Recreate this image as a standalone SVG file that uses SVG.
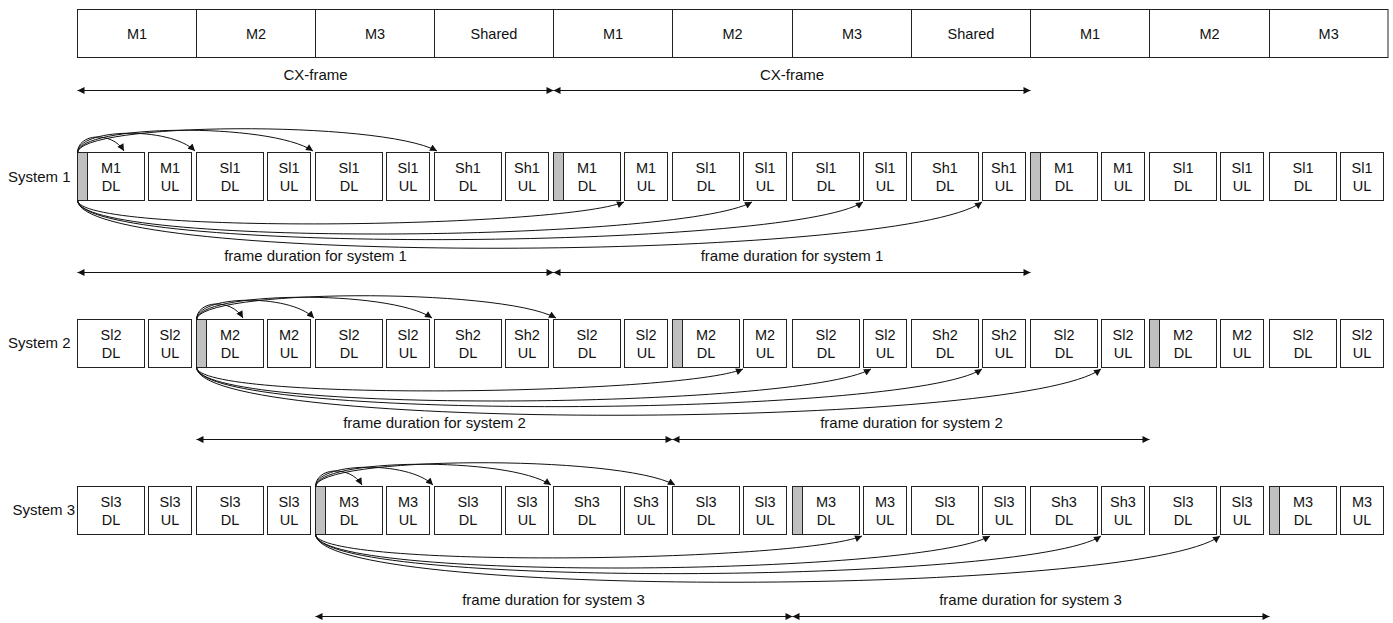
<svg xmlns="http://www.w3.org/2000/svg" width="1393" height="623" viewBox="0 0 1393 623">
<defs>
<style>
.box{fill:#fff;stroke:#222;stroke-width:1}
.gray{fill:#c0c0c0;stroke:#222;stroke-width:1}
.t{font-family:"Liberation Sans",Arial,sans-serif;font-size:14.5px;fill:#111;text-anchor:middle}
.lbl{font-family:"Liberation Sans",Arial,sans-serif;font-size:15px;fill:#111;text-anchor:middle}
.sys{font-family:"Liberation Sans",Arial,sans-serif;font-size:15px;fill:#111}
.conn{fill:none;stroke:#111;stroke-width:1}
.curve{marker-end:url(#ah)}
.dbl{marker-start:url(#ah2);marker-end:url(#ah2)}
</style>
<marker id="ah" viewBox="0 0 10 10" refX="10" refY="5" markerWidth="8" markerHeight="7" markerUnits="userSpaceOnUse" orient="auto"><path d="M0,0 L10,5 L0,10 z" fill="#111"/></marker>
<marker id="ah2" viewBox="0 0 10 10" refX="10" refY="5" markerWidth="8" markerHeight="7" markerUnits="userSpaceOnUse" orient="auto-start-reverse"><path d="M0,0 L10,5 L0,10 z" fill="#111"/></marker>
</defs>
<rect width="1393" height="623" fill="#fff"/>

<!-- top row -->
<g id="top-row">
<g id="cx1"><rect class="box" x="77.5" y="9.5" width="119" height="48"/><text class="t" x="137" y="38.7">M1</text></g>
<g id="cx2"><rect class="box" x="196.5" y="9.5" width="119" height="48"/><text class="t" x="256" y="38.7">M2</text></g>
<g id="cx3"><rect class="box" x="315.5" y="9.5" width="119" height="48"/><text class="t" x="375" y="38.7">M3</text></g>
<g id="cx4"><rect class="box" x="434.5" y="9.5" width="119" height="48"/><text class="t" x="494" y="38.7">Shared</text></g>
<g id="cx5"><rect class="box" x="553.5" y="9.5" width="119" height="48"/><text class="t" x="613" y="38.7">M1</text></g>
<g id="cx6"><rect class="box" x="672.5" y="9.5" width="120" height="48"/><text class="t" x="732.5" y="38.7">M2</text></g>
<g id="cx7"><rect class="box" x="792.5" y="9.5" width="119" height="48"/><text class="t" x="852" y="38.7">M3</text></g>
<g id="cx8"><rect class="box" x="911.5" y="9.5" width="119" height="48"/><text class="t" x="971" y="38.7">Shared</text></g>
<g id="cx9"><rect class="box" x="1030.5" y="9.5" width="119" height="48"/><text class="t" x="1090" y="38.7">M1</text></g>
<g id="cx10"><rect class="box" x="1149.5" y="9.5" width="120" height="48"/><text class="t" x="1209.5" y="38.7">M2</text></g>
<g id="cx11"><rect class="box" x="1269.5" y="9.5" width="118.5" height="48"/><text class="t" x="1328.7" y="38.7">M3</text></g>
</g>

<g id="labels">
<text class="lbl" x="315.5" y="80.3">CX-frame</text>
<text class="lbl" x="792" y="80.3">CX-frame</text>
<text class="sys" x="8" y="182">System 1</text>
<text class="sys" x="8" y="348">System 2</text>
<text class="sys" x="12.5" y="515">System 3</text>
<text class="lbl" x="315.5" y="261">frame duration for system 1</text>
<text class="lbl" x="792" y="261">frame duration for system 1</text>
<text class="lbl" x="434.5" y="428">frame duration for system 2</text>
<text class="lbl" x="911.5" y="428">frame duration for system 2</text>
<text class="lbl" x="553.5" y="605">frame duration for system 3</text>
<text class="lbl" x="1030.5" y="605">frame duration for system 3</text>
</g>

<!-- System 1 -->
<g id="system1">
<g id="s1-0dl"><rect class="box" x="77.5" y="152.5" width="67" height="48"/><rect class="gray" x="77.5" y="152.5" width="10" height="48"/><text class="t" x="111" y="173.4">M1</text><text class="t" x="111" y="190.6">DL</text></g>
<g id="s1-0ul"><rect class="box" x="148.5" y="152.5" width="43" height="48"/><text class="t" x="170" y="173.4">M1</text><text class="t" x="170" y="190.6">UL</text></g>
<g id="s1-1dl"><rect class="box" x="196.5" y="152.5" width="67" height="48"/><text class="t" x="230" y="173.4">Sl1</text><text class="t" x="230" y="190.6">DL</text></g>
<g id="s1-1ul"><rect class="box" x="267.5" y="152.5" width="43" height="48"/><text class="t" x="289" y="173.4">Sl1</text><text class="t" x="289" y="190.6">UL</text></g>
<g id="s1-2dl"><rect class="box" x="315.5" y="152.5" width="67" height="48"/><text class="t" x="349" y="173.4">Sl1</text><text class="t" x="349" y="190.6">DL</text></g>
<g id="s1-2ul"><rect class="box" x="386.5" y="152.5" width="43" height="48"/><text class="t" x="408" y="173.4">Sl1</text><text class="t" x="408" y="190.6">UL</text></g>
<g id="s1-3dl"><rect class="box" x="434.5" y="152.5" width="67" height="48"/><text class="t" x="468" y="173.4">Sh1</text><text class="t" x="468" y="190.6">DL</text></g>
<g id="s1-3ul"><rect class="box" x="505.5" y="152.5" width="43" height="48"/><text class="t" x="527" y="173.4">Sh1</text><text class="t" x="527" y="190.6">UL</text></g>
<g id="s1-4dl"><rect class="box" x="553.5" y="152.5" width="67" height="48"/><rect class="gray" x="553.5" y="152.5" width="10" height="48"/><text class="t" x="587" y="173.4">M1</text><text class="t" x="587" y="190.6">DL</text></g>
<g id="s1-4ul"><rect class="box" x="624.5" y="152.5" width="43" height="48"/><text class="t" x="646" y="173.4">M1</text><text class="t" x="646" y="190.6">UL</text></g>
<g id="s1-5dl"><rect class="box" x="672.5" y="152.5" width="67" height="48"/><text class="t" x="706" y="173.4">Sl1</text><text class="t" x="706" y="190.6">DL</text></g>
<g id="s1-5ul"><rect class="box" x="743.5" y="152.5" width="43" height="48"/><text class="t" x="765" y="173.4">Sl1</text><text class="t" x="765" y="190.6">UL</text></g>
<g id="s1-6dl"><rect class="box" x="792.5" y="152.5" width="67" height="48"/><text class="t" x="826" y="173.4">Sl1</text><text class="t" x="826" y="190.6">DL</text></g>
<g id="s1-6ul"><rect class="box" x="863.5" y="152.5" width="43" height="48"/><text class="t" x="885" y="173.4">Sl1</text><text class="t" x="885" y="190.6">UL</text></g>
<g id="s1-7dl"><rect class="box" x="911.5" y="152.5" width="67" height="48"/><text class="t" x="945" y="173.4">Sh1</text><text class="t" x="945" y="190.6">DL</text></g>
<g id="s1-7ul"><rect class="box" x="982.5" y="152.5" width="43" height="48"/><text class="t" x="1004" y="173.4">Sh1</text><text class="t" x="1004" y="190.6">UL</text></g>
<g id="s1-8dl"><rect class="box" x="1030.5" y="152.5" width="67" height="48"/><rect class="gray" x="1030.5" y="152.5" width="10" height="48"/><text class="t" x="1064" y="173.4">M1</text><text class="t" x="1064" y="190.6">DL</text></g>
<g id="s1-8ul"><rect class="box" x="1101.5" y="152.5" width="43" height="48"/><text class="t" x="1123" y="173.4">M1</text><text class="t" x="1123" y="190.6">UL</text></g>
<g id="s1-9dl"><rect class="box" x="1149.5" y="152.5" width="67" height="48"/><text class="t" x="1183" y="173.4">Sl1</text><text class="t" x="1183" y="190.6">DL</text></g>
<g id="s1-9ul"><rect class="box" x="1220.5" y="152.5" width="43" height="48"/><text class="t" x="1242" y="173.4">Sl1</text><text class="t" x="1242" y="190.6">UL</text></g>
<g id="s1-10dl"><rect class="box" x="1269.5" y="152.5" width="67" height="48"/><text class="t" x="1303" y="173.4">Sl1</text><text class="t" x="1303" y="190.6">DL</text></g>
<g id="s1-10ul"><rect class="box" x="1340.5" y="152.5" width="43" height="48"/><text class="t" x="1362" y="173.4">Sl1</text><text class="t" x="1362" y="190.6">UL</text></g>
</g>

<!-- System 2 -->
<g id="system2">
<g id="s2-0dl"><rect class="box" x="77.5" y="319.5" width="67" height="48"/><text class="t" x="111" y="340.4">Sl2</text><text class="t" x="111" y="357.6">DL</text></g>
<g id="s2-0ul"><rect class="box" x="148.5" y="319.5" width="43" height="48"/><text class="t" x="170" y="340.4">Sl2</text><text class="t" x="170" y="357.6">UL</text></g>
<g id="s2-1dl"><rect class="box" x="196.5" y="319.5" width="67" height="48"/><rect class="gray" x="196.5" y="319.5" width="10" height="48"/><text class="t" x="230" y="340.4">M2</text><text class="t" x="230" y="357.6">DL</text></g>
<g id="s2-1ul"><rect class="box" x="267.5" y="319.5" width="43" height="48"/><text class="t" x="289" y="340.4">M2</text><text class="t" x="289" y="357.6">UL</text></g>
<g id="s2-2dl"><rect class="box" x="315.5" y="319.5" width="67" height="48"/><text class="t" x="349" y="340.4">Sl2</text><text class="t" x="349" y="357.6">DL</text></g>
<g id="s2-2ul"><rect class="box" x="386.5" y="319.5" width="43" height="48"/><text class="t" x="408" y="340.4">Sl2</text><text class="t" x="408" y="357.6">UL</text></g>
<g id="s2-3dl"><rect class="box" x="434.5" y="319.5" width="67" height="48"/><text class="t" x="468" y="340.4">Sh2</text><text class="t" x="468" y="357.6">DL</text></g>
<g id="s2-3ul"><rect class="box" x="505.5" y="319.5" width="43" height="48"/><text class="t" x="527" y="340.4">Sh2</text><text class="t" x="527" y="357.6">UL</text></g>
<g id="s2-4dl"><rect class="box" x="553.5" y="319.5" width="67" height="48"/><text class="t" x="587" y="340.4">Sl2</text><text class="t" x="587" y="357.6">DL</text></g>
<g id="s2-4ul"><rect class="box" x="624.5" y="319.5" width="43" height="48"/><text class="t" x="646" y="340.4">Sl2</text><text class="t" x="646" y="357.6">UL</text></g>
<g id="s2-5dl"><rect class="box" x="672.5" y="319.5" width="67" height="48"/><rect class="gray" x="672.5" y="319.5" width="10" height="48"/><text class="t" x="706" y="340.4">M2</text><text class="t" x="706" y="357.6">DL</text></g>
<g id="s2-5ul"><rect class="box" x="743.5" y="319.5" width="43" height="48"/><text class="t" x="765" y="340.4">M2</text><text class="t" x="765" y="357.6">UL</text></g>
<g id="s2-6dl"><rect class="box" x="792.5" y="319.5" width="67" height="48"/><text class="t" x="826" y="340.4">Sl2</text><text class="t" x="826" y="357.6">DL</text></g>
<g id="s2-6ul"><rect class="box" x="863.5" y="319.5" width="43" height="48"/><text class="t" x="885" y="340.4">Sl2</text><text class="t" x="885" y="357.6">UL</text></g>
<g id="s2-7dl"><rect class="box" x="911.5" y="319.5" width="67" height="48"/><text class="t" x="945" y="340.4">Sh2</text><text class="t" x="945" y="357.6">DL</text></g>
<g id="s2-7ul"><rect class="box" x="982.5" y="319.5" width="43" height="48"/><text class="t" x="1004" y="340.4">Sh2</text><text class="t" x="1004" y="357.6">UL</text></g>
<g id="s2-8dl"><rect class="box" x="1030.5" y="319.5" width="67" height="48"/><text class="t" x="1064" y="340.4">Sl2</text><text class="t" x="1064" y="357.6">DL</text></g>
<g id="s2-8ul"><rect class="box" x="1101.5" y="319.5" width="43" height="48"/><text class="t" x="1123" y="340.4">Sl2</text><text class="t" x="1123" y="357.6">UL</text></g>
<g id="s2-9dl"><rect class="box" x="1149.5" y="319.5" width="67" height="48"/><rect class="gray" x="1149.5" y="319.5" width="10" height="48"/><text class="t" x="1183" y="340.4">M2</text><text class="t" x="1183" y="357.6">DL</text></g>
<g id="s2-9ul"><rect class="box" x="1220.5" y="319.5" width="43" height="48"/><text class="t" x="1242" y="340.4">M2</text><text class="t" x="1242" y="357.6">UL</text></g>
<g id="s2-10dl"><rect class="box" x="1269.5" y="319.5" width="67" height="48"/><text class="t" x="1303" y="340.4">Sl2</text><text class="t" x="1303" y="357.6">DL</text></g>
<g id="s2-10ul"><rect class="box" x="1340.5" y="319.5" width="43" height="48"/><text class="t" x="1362" y="340.4">Sl2</text><text class="t" x="1362" y="357.6">UL</text></g>
</g>

<!-- System 3 -->
<g id="system3">
<g id="s3-0dl"><rect class="box" x="77.5" y="486.5" width="67" height="48"/><text class="t" x="111" y="507.4">Sl3</text><text class="t" x="111" y="524.6">DL</text></g>
<g id="s3-0ul"><rect class="box" x="148.5" y="486.5" width="43" height="48"/><text class="t" x="170" y="507.4">Sl3</text><text class="t" x="170" y="524.6">UL</text></g>
<g id="s3-1dl"><rect class="box" x="196.5" y="486.5" width="67" height="48"/><text class="t" x="230" y="507.4">Sl3</text><text class="t" x="230" y="524.6">DL</text></g>
<g id="s3-1ul"><rect class="box" x="267.5" y="486.5" width="43" height="48"/><text class="t" x="289" y="507.4">Sl3</text><text class="t" x="289" y="524.6">UL</text></g>
<g id="s3-2dl"><rect class="box" x="315.5" y="486.5" width="67" height="48"/><rect class="gray" x="315.5" y="486.5" width="10" height="48"/><text class="t" x="349" y="507.4">M3</text><text class="t" x="349" y="524.6">DL</text></g>
<g id="s3-2ul"><rect class="box" x="386.5" y="486.5" width="43" height="48"/><text class="t" x="408" y="507.4">M3</text><text class="t" x="408" y="524.6">UL</text></g>
<g id="s3-3dl"><rect class="box" x="434.5" y="486.5" width="67" height="48"/><text class="t" x="468" y="507.4">Sl3</text><text class="t" x="468" y="524.6">DL</text></g>
<g id="s3-3ul"><rect class="box" x="505.5" y="486.5" width="43" height="48"/><text class="t" x="527" y="507.4">Sl3</text><text class="t" x="527" y="524.6">UL</text></g>
<g id="s3-4dl"><rect class="box" x="553.5" y="486.5" width="67" height="48"/><text class="t" x="587" y="507.4">Sh3</text><text class="t" x="587" y="524.6">DL</text></g>
<g id="s3-4ul"><rect class="box" x="624.5" y="486.5" width="43" height="48"/><text class="t" x="646" y="507.4">Sh3</text><text class="t" x="646" y="524.6">UL</text></g>
<g id="s3-5dl"><rect class="box" x="672.5" y="486.5" width="67" height="48"/><text class="t" x="706" y="507.4">Sl3</text><text class="t" x="706" y="524.6">DL</text></g>
<g id="s3-5ul"><rect class="box" x="743.5" y="486.5" width="43" height="48"/><text class="t" x="765" y="507.4">Sl3</text><text class="t" x="765" y="524.6">UL</text></g>
<g id="s3-6dl"><rect class="box" x="792.5" y="486.5" width="67" height="48"/><rect class="gray" x="792.5" y="486.5" width="10" height="48"/><text class="t" x="826" y="507.4">M3</text><text class="t" x="826" y="524.6">DL</text></g>
<g id="s3-6ul"><rect class="box" x="863.5" y="486.5" width="43" height="48"/><text class="t" x="885" y="507.4">M3</text><text class="t" x="885" y="524.6">UL</text></g>
<g id="s3-7dl"><rect class="box" x="911.5" y="486.5" width="67" height="48"/><text class="t" x="945" y="507.4">Sl3</text><text class="t" x="945" y="524.6">DL</text></g>
<g id="s3-7ul"><rect class="box" x="982.5" y="486.5" width="43" height="48"/><text class="t" x="1004" y="507.4">Sl3</text><text class="t" x="1004" y="524.6">UL</text></g>
<g id="s3-8dl"><rect class="box" x="1030.5" y="486.5" width="67" height="48"/><text class="t" x="1064" y="507.4">Sh3</text><text class="t" x="1064" y="524.6">DL</text></g>
<g id="s3-8ul"><rect class="box" x="1101.5" y="486.5" width="43" height="48"/><text class="t" x="1123" y="507.4">Sh3</text><text class="t" x="1123" y="524.6">UL</text></g>
<g id="s3-9dl"><rect class="box" x="1149.5" y="486.5" width="67" height="48"/><text class="t" x="1183" y="507.4">Sl3</text><text class="t" x="1183" y="524.6">DL</text></g>
<g id="s3-9ul"><rect class="box" x="1220.5" y="486.5" width="43" height="48"/><text class="t" x="1242" y="507.4">Sl3</text><text class="t" x="1242" y="524.6">UL</text></g>
<g id="s3-10dl"><rect class="box" x="1269.5" y="486.5" width="67" height="48"/><rect class="gray" x="1269.5" y="486.5" width="10" height="48"/><text class="t" x="1303" y="507.4">M3</text><text class="t" x="1303" y="524.6">DL</text></g>
<g id="s3-10ul"><rect class="box" x="1340.5" y="486.5" width="43" height="48"/><text class="t" x="1362" y="507.4">M3</text><text class="t" x="1362" y="524.6">UL</text></g>
</g>

<!-- connectors -->
<g id="connectors" class="conn">
<line class="dbl" x1="77.5" y1="90.5" x2="553.5" y2="90.5"/>
<line class="dbl" x1="553.5" y1="90.5" x2="1030.5" y2="90.5"/>
<line class="dbl" x1="77.5" y1="272.5" x2="553.5" y2="272.5"/>
<line class="dbl" x1="553.5" y1="272.5" x2="1030.5" y2="272.5"/>
<line class="dbl" x1="196.5" y1="439.5" x2="672.5" y2="439.5"/>
<line class="dbl" x1="672.5" y1="439.5" x2="1149.5" y2="439.5"/>
<line class="dbl" x1="315.5" y1="616.5" x2="792.5" y2="616.5"/>
<line class="dbl" x1="792.5" y1="616.5" x2="1269.5" y2="616.5"/>
<g id="curves-s1">
<path class="curve" d="M77.5,153 C77.5,133 112,131 124,151"/>
<path class="curve" d="M77.5,153 C77.5,128 170,126 195,151"/>
<path class="curve" d="M77.5,153 C77.5,124 270,122 313,151"/>
<path class="curve" d="M77.5,153 C77.5,122 380,120 437,151"/>
<path class="curve" d="M77.5,200 C77.5,235 560,228 624,202"/>
<path class="curve" d="M77.5,200 C77.5,248 680,242 752,202"/>
<path class="curve" d="M77.5,200 C77.5,255 790,250 863,202"/>
<path class="curve" d="M77.5,200 C77.5,266 900,262 982,202"/>
</g>
<g id="curves-s2" transform="translate(119,167)">
<path class="curve" d="M77.5,153 C77.5,133 112,131 124,151"/>
<path class="curve" d="M77.5,153 C77.5,128 170,126 195,151"/>
<path class="curve" d="M77.5,153 C77.5,124 270,122 313,151"/>
<path class="curve" d="M77.5,153 C77.5,122 380,120 437,151"/>
<path class="curve" d="M77.5,200 C77.5,235 560,228 624,202"/>
<path class="curve" d="M77.5,200 C77.5,248 680,242 752,202"/>
<path class="curve" d="M77.5,200 C77.5,255 790,250 863,202"/>
<path class="curve" d="M77.5,200 C77.5,266 900,262 982,202"/>
</g>
<g id="curves-s3" transform="translate(238,334)">
<path class="curve" d="M77.5,153 C77.5,133 112,131 124,151"/>
<path class="curve" d="M77.5,153 C77.5,128 170,126 195,151"/>
<path class="curve" d="M77.5,153 C77.5,124 270,122 313,151"/>
<path class="curve" d="M77.5,153 C77.5,122 380,120 437,151"/>
<path class="curve" d="M77.5,200 C77.5,235 560,228 624,202"/>
<path class="curve" d="M77.5,200 C77.5,248 680,242 752,202"/>
<path class="curve" d="M77.5,200 C77.5,255 790,250 863,202"/>
<path class="curve" d="M77.5,200 C77.5,266 900,262 982,202"/>
</g>
</g>
</svg>
